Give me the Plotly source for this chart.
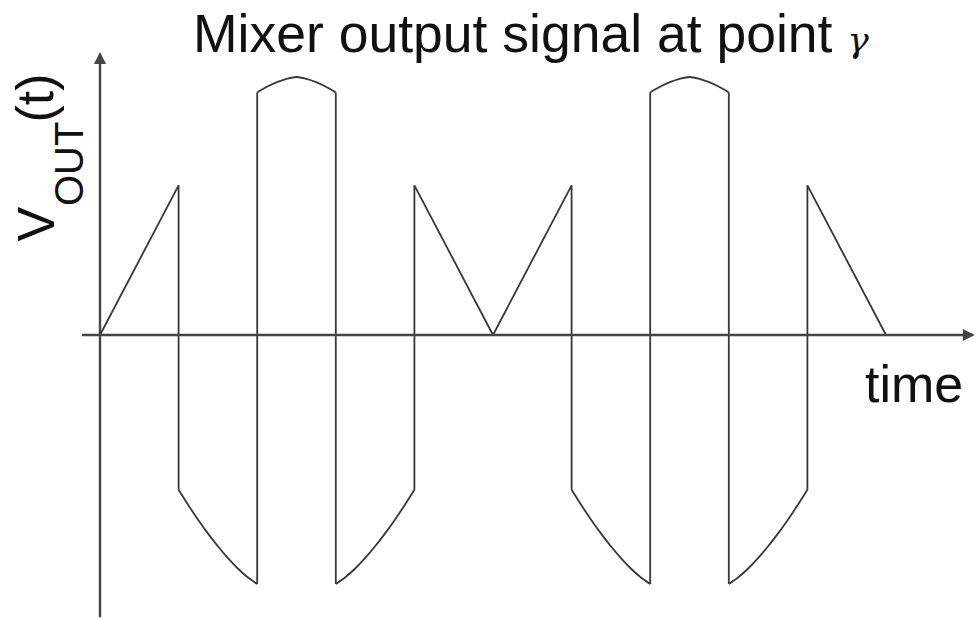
import plotly.graph_objects as go

# Time is measured in switching intervals of the LO square wave,
# amplitude is normalised to the peak of the RF sine.

# Straight parts of the output: linear ramps and the vertical switching edges
line_t = [0, 1, 1, None, 2, 2, None, 3, 3, None, 4, 4, 5, 6, 6, None,
          7, 7, None, 8, 8, None, 9, 9, 10]
line_v = [0, 0.58, -0.60, None, -0.965, 0.94, None, 0.94, -0.965, None,
          -0.60, 0.58, 0, 0.58, -0.60, None, -0.965, 0.94, None, 0.94,
          -0.965, None, -0.60, 0.58, 0]

# Curved parts, sampled every eighth of an interval
lobe_offsets = [0, 0.125, 0.25, 0.375, 0.5, 0.625, 0.75, 0.875, 1.0]
fall_v = [-0.60, -0.66, -0.717, -0.77, -0.819, -0.864, -0.904, -0.938, -0.965]
arch_v = [0.94, 0.962, 0.980, 0.993, 1.00, 0.993, 0.980, 0.962, 0.94]
rise_v = [-0.965, -0.938, -0.904, -0.864, -0.819, -0.77, -0.717, -0.66, -0.60]
fall_starts = [1, 6]
arch_starts = [2, 7]
rise_starts = [3, 8]

# Axis extents
t_axis = [-0.25, 11.13]
v_axis = [-1.10, 1.097]
x_range = [-1.2723, 11.1578]
y_range = [-1.1008, 1.2984]

W, H = 977, 619
FONT = "Liberation Sans, Arial, sans-serif"
TEXT_COLOR = "#111111"
WAVE = dict(color="#383838", width=1.8)
AXIS_COLOR = "#454545"

fig = go.Figure()

fig.add_trace(go.Scatter(x=line_t, y=line_v, mode="lines", line=WAVE,
                         connectgaps=False, hoverinfo="skip"))

for starts, values in ((fall_starts, fall_v), (arch_starts, arch_v),
                       (rise_starts, rise_v)):
    for s in starts:
        fig.add_trace(go.Scatter(
            x=[s + o for o in lobe_offsets], y=values, mode="lines",
            line=dict(shape="spline", smoothing=1.0, **WAVE),
            hoverinfo="skip"))

# Axes drawn as arrows
fig.add_annotation(x=t_axis[1], y=0, ax=t_axis[0], ay=0, xref="x", yref="y",
                   axref="x", ayref="y", text="", showarrow=True,
                   arrowhead=2, arrowsize=1, arrowwidth=2.4,
                   arrowcolor=AXIS_COLOR, standoff=0, startstandoff=0)
fig.add_annotation(x=0, y=v_axis[1], ax=0, ay=v_axis[0], xref="x", yref="y",
                   axref="x", ayref="y", text="", showarrow=True,
                   arrowhead=2, arrowsize=1, arrowwidth=2.4,
                   arrowcolor=AXIS_COLOR, standoff=0, startstandoff=0)


def px(xp):
    return xp / W


def py(yp):
    return 1 - yp / H


def label(xp, yp, text, size, angle=0, xanchor="center"):
    fig.add_annotation(x=px(xp), y=py(yp), xref="paper", yref="paper",
                       xanchor=xanchor, yanchor="middle", showarrow=False,
                       textangle=angle, text=text,
                       font=dict(family=FONT, size=size, color=TEXT_COLOR))


# Title
label(191, 34,
      "Mixer output signal at point "
      "<span style='font-family:DejaVu Serif, serif;font-size:36px'>"
      "<i>γ</i></span>", 53.5, xanchor="left")

# x-axis label
label(863, 384, "time", 52, xanchor="left")

# y-axis label V_OUT(t), built from three rotated pieces
label(35, 224.5, "V", 52, angle=-90)
label(69, 164, "OUT", 40, angle=-90)
label(35, 98.5, "(t)", 52, angle=-90)

fig.update_layout(
    width=W, height=H, margin=dict(l=0, r=0, t=0, b=0),
    paper_bgcolor="white", plot_bgcolor="white", showlegend=False,
    xaxis=dict(range=x_range, visible=False, fixedrange=True),
    yaxis=dict(range=y_range, visible=False, fixedrange=True),
)

fig.write_html("out.html")
